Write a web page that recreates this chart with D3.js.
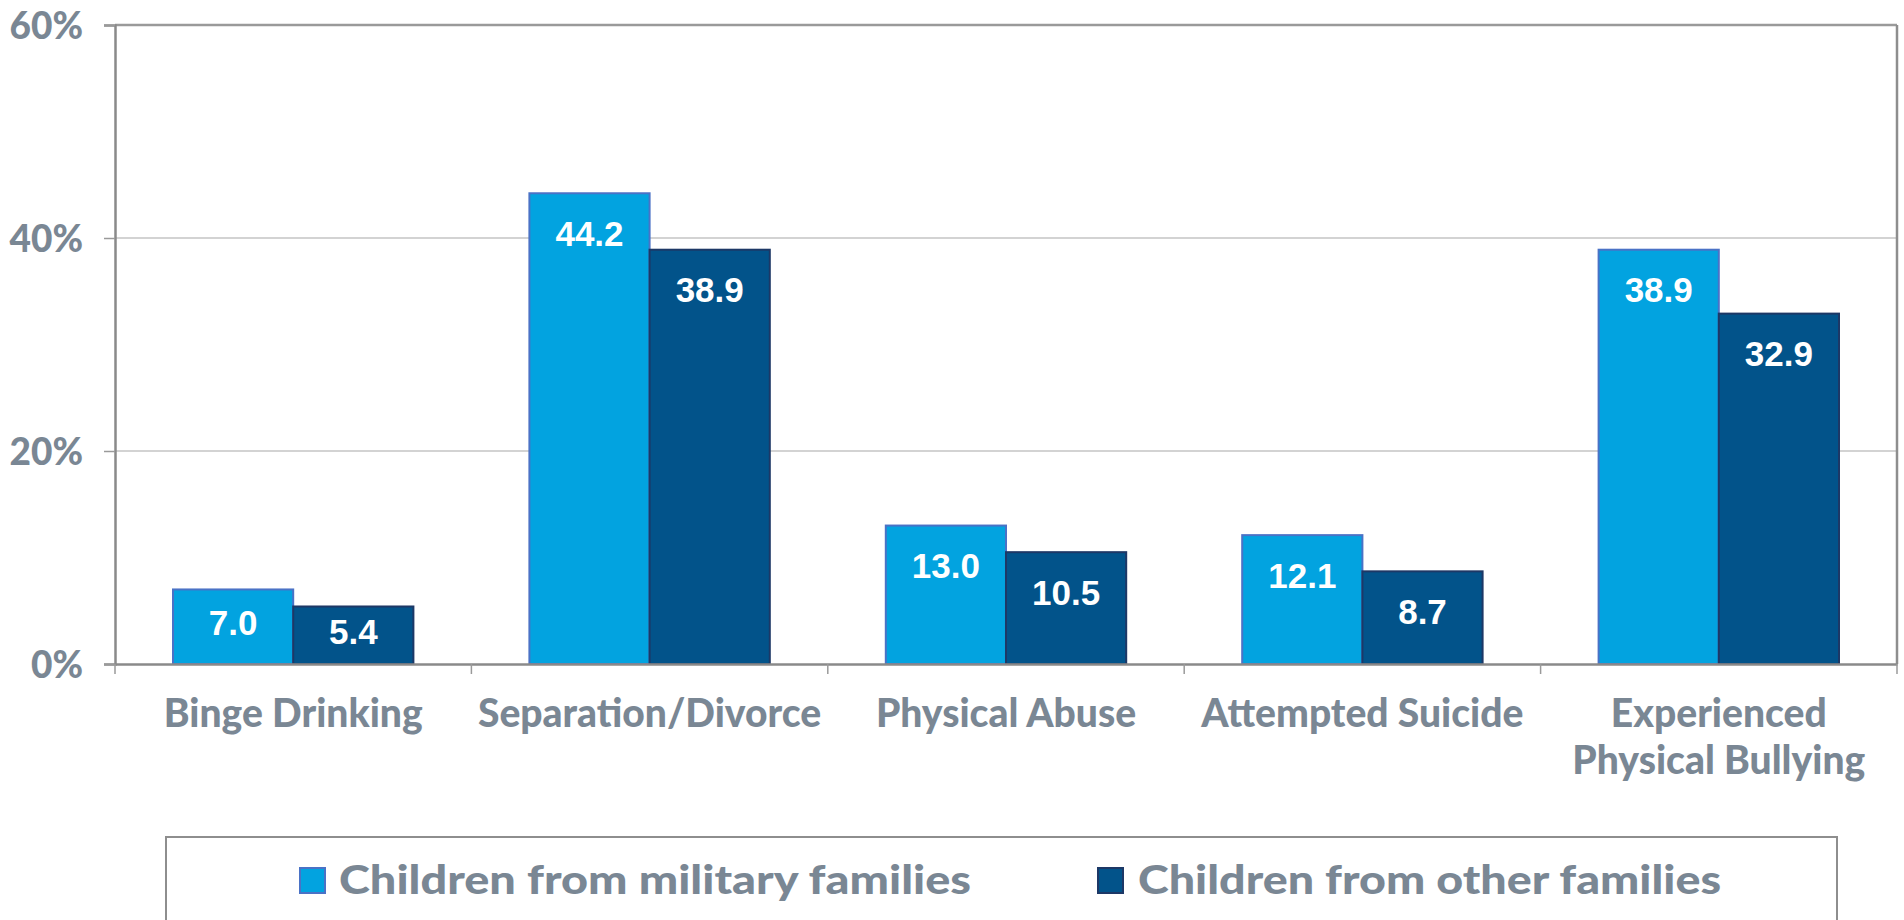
<!DOCTYPE html>
<html>
<head>
<meta charset="utf-8">
<script src="https://cdn.jsdelivr.net/npm/d3@7"></script>
<style>
  html, body { margin: 0; padding: 0; background: #fff; }
  svg { display: block; }
</style>
</head>
<body>
<svg id="chart" width="1904" height="920"></svg>
<script>
const categories = [
  ["Binge Drinking"],
  ["Separation/Divorce"],
  ["Physical Abuse"],
  ["Attempted Suicide"],
  ["Experienced", "Physical Bullying"]
];
const seriesNames = ["Children from military families", "Children from other families"];
const military = [7.0, 44.2, 13.0, 12.1, 38.9];
const other = [5.4, 38.9, 10.5, 8.7, 32.9];
const yTicks = [0, 20, 40, 60];
const yTickLabels = ["0%", "20%", "40%", "60%"];

const colors = ["#02a3e0", "#02538a"];
const strokes = ["#4a72c6", "#1d3866"];
const textGray = "#7a8794";
const labelFont = "Lato, 'Open Sans', sans-serif";

const svg = d3.select("#chart");
const L = 115, R = 1897, T = 25, B = 664;

const catKeys = categories.map(c => c.join(" "));
const x0 = d3.scaleBand().domain(catKeys).range([L, R]).padding(0);
const x1 = d3.scaleBand().domain(seriesNames).range([58, x0.bandwidth() - 58]).padding(0);
const y = d3.scaleLinear().domain([0, 60]).range([B, T]);

// gridlines
svg.append("g").selectAll("line").data(yTicks.filter(t => t > 0 && t < 60)).join("line")
  .attr("x1", L).attr("x2", R).attr("y1", d => y(d)).attr("y2", d => y(d))
  .attr("stroke", "#c4c4c4").attr("stroke-width", 1.5);

// top border
svg.append("line").attr("x1", L).attr("x2", R).attr("y1", y(60)).attr("y2", y(60))
  .attr("stroke", "#9a9a9a").attr("stroke-width", 2.5);
// right border
svg.append("line").attr("x1", R).attr("x2", R).attr("y1", y(60)).attr("y2", B)
  .attr("stroke", "#8e8e8e").attr("stroke-width", 2.5);

// y axis
const yAxis = d3.axisLeft(y).tickValues(yTicks).tickSize(11)
  .tickFormat((d, i) => yTickLabels[i]);
const gy = svg.append("g").attr("transform", `translate(${L},0)`).call(yAxis);
gy.select(".domain").attr("stroke", "#8a8a8a").attr("stroke-width", 2.5);
gy.selectAll(".tick line").attr("stroke", "#9a9a9a").attr("stroke-width", 1.5);
gy.selectAll(".tick text")
  .attr("x", -32).attr("dy", "0.36em")
  .attr("fill", textGray).attr("font-family", labelFont)
  .attr("font-weight", 900).attr("font-size", 37);

// bars
const groups = svg.append("g").selectAll("g").data(catKeys).join("g")
  .attr("transform", d => `translate(${x0(d)},0)`);
const barData = (d, i) => seriesNames.map((s, j) => ({ s, j, v: j === 0 ? military[i] : other[i] }));
groups.each(function(d, i) {
  const g = d3.select(this);
  const bd = barData(d, i);
  g.selectAll("rect").data(bd).join("rect")
    .attr("x", b => x1(b.s)).attr("width", x1.bandwidth())
    .attr("y", b => y(b.v)).attr("height", b => B - y(b.v))
    .attr("fill", b => colors[b.j]).attr("stroke", b => strokes[b.j]).attr("stroke-width", 2);
  g.selectAll("text").data(bd).join("text")
    .attr("x", b => x1(b.s) + x1.bandwidth() / 2)
    .attr("y", b => {
      const top = y(b.v);
      return Math.min(top + 40, (top + B) / 2 - 4);
    })
    .attr("dy", "0.36em")
    .attr("text-anchor", "middle")
    .attr("fill", "#fff").attr("font-family", "'Liberation Sans', Arial, sans-serif")
    .attr("font-weight", 700).attr("font-size", 35)
    .text(b => b.v.toFixed(1));
});

// x axis
const xAxis = d3.axisBottom(x0).tickSize(0).tickFormat("");
const gx = svg.append("g").attr("transform", `translate(0,${B})`).call(xAxis);
gx.select(".domain").attr("stroke", "#8a8a8a").attr("stroke-width", 2.5);
gx.selectAll(".tick").remove();
// category separator ticks
const sepX = catKeys.map(k => x0(k)).concat([R]);
svg.append("g").selectAll("line").data(sepX).join("line")
  .attr("x1", d => d).attr("x2", d => d).attr("y1", B).attr("y2", B + 10)
  .attr("stroke", "#9a9a9a").attr("stroke-width", 1.5);

// category labels
svg.append("g").selectAll("text").data(categories).join("text")
  .attr("x", (d, i) => x0(catKeys[i]) + x0.bandwidth() / 2)
  .attr("y", B + 63)
  .attr("text-anchor", "middle")
  .attr("fill", textGray).attr("font-family", labelFont)
  .attr("font-weight", 900).attr("font-size", 39)
  .each(function(d) {
    const t = d3.select(this);
    d.forEach((line, k) => {
      t.append("tspan").attr("x", t.attr("x")).attr("dy", k === 0 ? 0 : 47).text(line);
    });
  });

// legend
const leg = svg.append("g");
leg.append("rect").attr("x", 166).attr("y", 837).attr("width", 1671).attr("height", 120)
  .attr("fill", "none").attr("stroke", "#8e8e8e").attr("stroke-width", 2);
const legItems = [
  { name: seriesNames[0], mx: 300, tx: 339, tw: 632 },
  { name: seriesNames[1], mx: 1098, tx: 1138, tw: 583 }
];
legItems.forEach((it, j) => {
  leg.append("rect").attr("x", it.mx).attr("y", 868).attr("width", 25).attr("height", 25)
    .attr("fill", colors[j]).attr("stroke", strokes[j]).attr("stroke-width", 2);
  leg.append("text").attr("x", it.tx).attr("y", 894)
    .attr("fill", textGray).attr("font-family", labelFont)
    .attr("font-weight", 900).attr("font-size", 40)
    .attr("textLength", it.tw).attr("lengthAdjust", "spacingAndGlyphs")
    .text(it.name);
});
</script>
</body>
</html>
